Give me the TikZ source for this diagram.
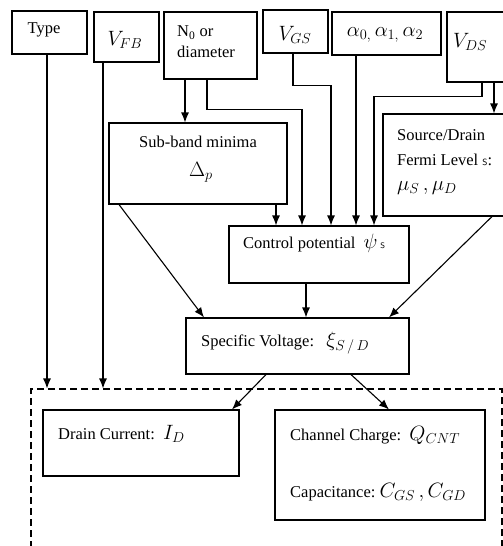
\documentclass[tikz,border=0pt]{standalone}
\usepackage{fontspec}
\setmainfont{Liberation Serif}
\usepackage{amsmath}
\usetikzlibrary{arrows.meta}
\newcommand\mbig{\fontsize{21}{25}\selectfont}

\begin{document}
\begin{tikzpicture}[x=1pt,y=-1pt,
    blk/.style={draw, line width=1.1pt, inner sep=0pt},
    txt/.style={font=\fontsize{16.5}{21}\selectfont, inner sep=0pt},
    mth/.style={font=\mbig, inner sep=0pt},
    arr/.style={-{Latex[length=10pt,width=8pt]}, line width=1.1pt}]
    \useasboundingbox (0,0) rectangle (503,546);
    \clip (0,0) rectangle (503,546);
    % input boxes
    \node [blk, minimum width=75, minimum height=43] (type) at (49.5,32.5) {};
    \node [blk, minimum width=65, minimum height=50] (vfb) at (126.5,37) {};
    \node [blk, minimum width=93, minimum height=67] (nzero) at (210.5,45.5) {};
    \node [blk, minimum width=65, minimum height=43] (vgs) at (295.5,31.5) {};
    \node [blk, minimum width=109, minimum height=43] (alpha) at (386.5,33.5) {};
    \node [blk, minimum width=63, minimum height=70] (vds) at (478.5,47) {};
    \node [txt] (typelbl) at (44,30) {Type};
    \node [mth] (vfblbl) at (125,40) {$V_{FB}$};
    \node [txt, anchor=west, align=left] (nzerolbl) at (177,42) {N\textsubscript{0} or\\diameter};
    \node [mth] (vgslbl) at (295,35) {$V_{GS}$};
    \node [mth] (alphalbl) at (385,35) {$\alpha_{0,}\,\alpha_{1,}\,\alpha_{2}$};
    \node [mth, anchor=west] (vdslbl) at (453,42) {$V_{DS}$};
    % middle boxes
    \node [blk, minimum width=178, minimum height=81] (subband) at (198,163.5) {};
    \node [blk, minimum width=127, minimum height=102] (fermi) at (446.5,165) {};
    \node [blk, minimum width=180, minimum height=57] (ctrl) at (319,254.5) {};
    \node [blk, minimum width=223, minimum height=56] (spec) at (297.5,346) {};
    \node [txt] (subbandlbl) at (198,142) {Sub-band minima};
    \node [mth] (deltalbl) at (201,172) {$\Delta_p$};
    \node [txt, anchor=west] (fermilbl1) at (397,135) {Source/Drain};
    \node [txt, anchor=west] (fermilbl2) at (397,160) {Fermi Level {\sffamily\small S}:};
    \node [mth, anchor=west] (fermilbl3) at (397,188) {$\mu_S\,,\mu_D$};
    \node [txt, anchor=west] (ctrllbl) at (243,243) {Control potential\ \ {\mbig$\psi$}\,{\sffamily\footnotesize S}};
    \node [txt, anchor=west] (speclbl) at (201,343) {Specific Voltage:\ \ \ {\mbig$\xi_{S\,/\,D}$}};
    % output boxes
    \node [blk, dash pattern=on 7pt off 4pt, minimum width=471, minimum height=171] (outbox) at (266.5,474.5) {};
    \node [blk, minimum width=196, minimum height=66] (drain) at (141,443) {};
    \node [blk, minimum width=210, minimum height=110] (charge) at (380,465) {};
    \node [txt, anchor=west] (drainlbl) at (58,434) {Drain Current:\ \ {\mbig$I_D$}};
    \node [txt, anchor=west] (chargelbl) at (290,435) {Channel Charge:\ \ {\mbig$Q_{CNT}$}};
    \node [txt, anchor=west] (caplbl) at (290,492) {Capacitance:\ {\mbig$C_{GS}\,,C_{GD}$}};
    % connectors
    \draw [arr] ([xshift=-2.5]type.south) -- ([xshift=-2.5]type.south |- outbox.north);
    \draw [arr] ([xshift=-23.5]vfb.south) -- ([xshift=-23.5]vfb.south |- outbox.north);
    \draw [arr] ([xshift=-25.5]nzero.south) -- ([xshift=-25.5]nzero.south |- subband.north);
    \draw [arr] ([xshift=-3.5]nzero.south) -- ++(0,30) -| ([xshift=-17]ctrl.north);
    \draw [arr] ([xshift=-2.5]vgs.south) -- ++(0,32) -| ([xshift=12]ctrl.north);
    \draw [arr] ([xshift=-30.5]alpha.south) -- ([xshift=-30.5]alpha.south |- ctrl.north);
    \draw [arr] ([xshift=3.5]vds.south) -- ++(0,14) -| ([xshift=55]ctrl.north);
    \draw [arr] ([xshift=15.5]vds.south) -- ([xshift=15.5]vds.south |- fermi.north);
    \draw [arr] ([xshift=78]subband.south) -- ([xshift=78]subband.south |- ctrl.north);
    \draw [arr] ([xshift=-79]subband.south) -- ([xshift=-93.5]spec.north);
    \draw [arr] ([xshift=-13]ctrl.south) -- ([xshift=-13]ctrl.south |- spec.north);
    \draw [arr] ([xshift=45.5]fermi.south) -- ([xshift=91.5]spec.north);
    \draw [arr] ([xshift=-31.5]spec.south) -- ([xshift=91]drain.north);
    \draw [arr] ([xshift=53.5]spec.south) -- ([xshift=9]charge.north);
\end{tikzpicture}
\end{document}
